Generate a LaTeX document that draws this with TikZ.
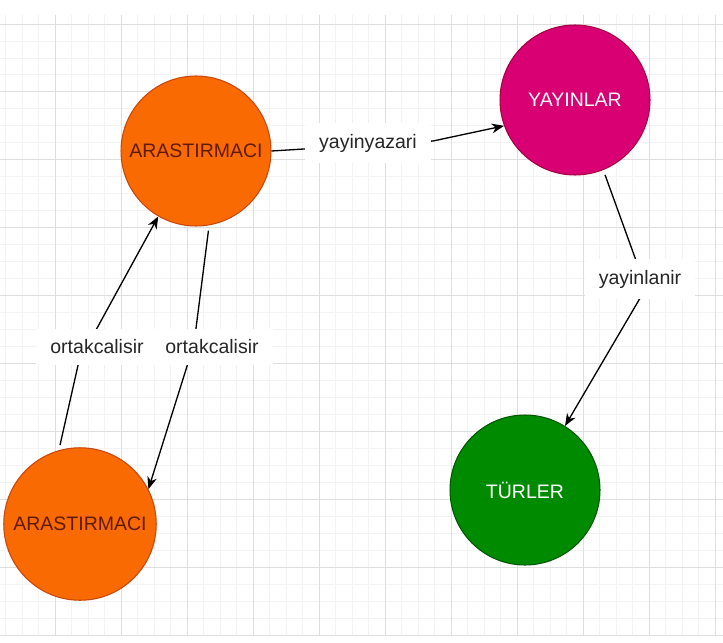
\documentclass[tikz,border=0pt]{standalone}
\usepackage{fontspec}
\setmainfont{Liberation Sans}
\usetikzlibrary{arrows.meta}
\definecolor{orangefill}{RGB}{250,106,2}
\definecolor{orangeline}{RGB}{199,70,10}
\definecolor{orangetext}{RGB}{96,26,10}
\definecolor{pinkfill}{RGB}{216,0,115}
\definecolor{pinkline}{RGB}{165,0,64}
\definecolor{greenfill}{RGB}{0,138,0}
\definecolor{greenline}{RGB}{0,87,0}
\definecolor{gridminor}{RGB}{243,243,243}
\definecolor{gridmajor}{RGB}{222,222,222}

\begin{document}
\begin{tikzpicture}[x=0.02cm, y=-0.02cm, font=\fontsize{11.1}{13.3}\selectfont]
    \tikzstyle{entity}=[circle, minimum size=3cm, inner sep=0pt, line width=0.6pt]
    \tikzstyle{rel}=[draw=black, line width=0.75pt, -{Stealth[length=7pt,width=5.5pt,inset=2.2pt]}]
    \tikzstyle{lbl}=[fill=white, inner xsep=8pt, inner ysep=6pt, text=black!85]
    \fill[white] (0,0) rectangle (723,642);
    \begin{scope}
        \clip (0,15) rectangle (723,636);
        \foreach \x in {0,...,43} \draw[gridminor, line width=0.5pt] ({5.5+16.5*\x},15) -- ++(0,621);
        \foreach \y in {0,...,36} \draw[gridminor, line width=0.5pt] (0,{24+16.975*\y}) -- ++(723,0);
        \foreach \x in {0,...,10} \draw[gridmajor, line width=0.5pt] ({55+66*\x},15) -- ++(0,621);
        \foreach \y in {0,...,9} \draw[gridmajor, line width=0.5pt] (0,{24+67.9*\y}) -- ++(723,0);
    \end{scope}
    \node [entity, fill=orangefill, draw=orangeline, text=orangetext] (arastirmaci) at (196,151) {ARASTIRMACI};
    \node [entity, fill=pinkfill, draw=pinkline, text=white] (yayinlar) at (575,100) {YAYINLAR};
    \node [entity, fill=orangefill, draw=orangeline, text=orangetext, minimum size=3.05cm] (ortak) at (80,524) {ARASTIRMACI};
    \node [entity, fill=greenfill, draw=greenline, text=white] (turler) at (525,490) {TÜRLER};
    \coordinate (w1) at (433,141);
    \coordinate (w2) at (79,361);
    \coordinate (w3) at (194,344);
    \coordinate (w4) at (646,288);
    \draw [rel] (arastirmaci.east) -- (w1) -- (yayinlar.200) node [lbl] at (368,143) (l1) {yayinyazari};
    \draw [rel, shorten <=3pt] (ortak.106) -- (w2) -- (arastirmaci.240) node [lbl] at (97,347) (l2) {ortakcalisir};
    \draw [rel, shorten <=3pt] (arastirmaci.280) -- (w3) -- (ortak.27) node [lbl] at (212,347) (l3) {ortakcalisir};
    \draw [rel, shorten <=3pt] (yayinlar.292) -- (w4) -- (turler.58) node [lbl] at (640,279) (l4) {yayinlanir};
\end{tikzpicture}
\end{document}
